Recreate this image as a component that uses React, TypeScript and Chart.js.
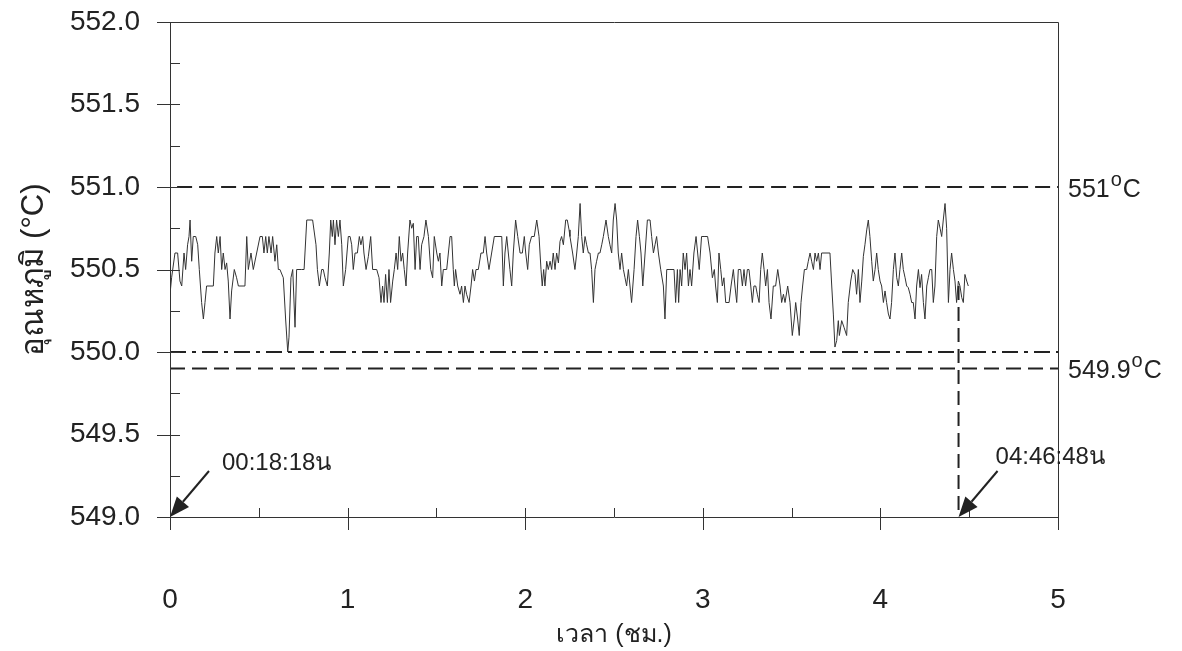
import React, { useEffect, useRef } from 'react';
import { Chart, registerables } from 'chart.js';

Chart.register(...registerables);

const FONT = "'Liberation Sans', Arial, 'DejaVu Sans', sans-serif";

// Temperature readings [time (h), temperature (°C)]
const readingsA: [number, number][] = [
  [0.000, 550.35], [0.009, 550.45], [0.028, 550.6], [0.043, 550.6], [0.056, 550.43], [0.066, 550.4],
  [0.079, 550.6], [0.088, 550.5], [0.099, 550.65], [0.107, 550.7], [0.113, 550.8], [0.122, 550.55],
  [0.131, 550.7], [0.145, 550.7], [0.156, 550.65], [0.165, 550.5], [0.178, 550.3], [0.188, 550.2],
  [0.197, 550.3], [0.206, 550.4], [0.244, 550.4], [0.253, 550.6], [0.263, 550.7], [0.272, 550.6],
  [0.282, 550.7], [0.291, 550.5], [0.300, 550.6], [0.310, 550.5], [0.319, 550.54], [0.328, 550.43],
  [0.338, 550.2], [0.347, 550.37], [0.362, 550.5], [0.375, 550.45], [0.385, 550.4], [0.422, 550.4],
  [0.432, 550.7], [0.441, 550.5], [0.456, 550.6], [0.469, 550.5], [0.488, 550.6], [0.507, 550.7],
  [0.520, 550.7], [0.529, 550.6], [0.539, 550.7], [0.548, 550.6], [0.557, 550.7], [0.569, 550.6],
  [0.578, 550.7], [0.591, 550.55], [0.601, 550.65], [0.610, 550.5], [0.619, 550.5], [0.638, 550.45],
  [0.651, 550.2], [0.663, 550.0], [0.670, 550.09], [0.681, 550.45], [0.691, 550.5], [0.704, 550.15],
  [0.713, 550.5], [0.741, 550.5],
];

const readingsB: [number, number][] = [
  [0.755, 550.5], [0.770, 550.8], [0.803, 550.8], [0.822, 550.65], [0.830, 550.5], [0.841, 550.4],
  [0.854, 550.5], [0.863, 550.5], [0.873, 550.45], [0.886, 550.4], [0.897, 550.6], [0.905, 550.8],
  [0.914, 550.7], [0.920, 550.8], [0.929, 550.65], [0.938, 550.8], [0.948, 550.7], [0.957, 550.8],
  [0.967, 550.65], [0.976, 550.4], [0.989, 550.5], [1.004, 550.7], [1.014, 550.7], [1.023, 550.65],
  [1.032, 550.5], [1.042, 550.6], [1.055, 550.6], [1.066, 550.7], [1.075, 550.65], [1.085, 550.7],
  [1.092, 550.6], [1.104, 550.5], [1.117, 550.58], [1.130, 550.7], [1.141, 550.5], [1.164, 550.5],
  [1.177, 550.45], [1.188, 550.3], [1.197, 550.4], [1.205, 550.3], [1.214, 550.47], [1.224, 550.3],
  [1.233, 550.5], [1.242, 550.3], [1.254, 550.43], [1.263, 550.5], [1.273, 550.6], [1.282, 550.5],
  [1.291, 550.7], [1.301, 550.55], [1.310, 550.6], [1.319, 550.5], [1.329, 550.4], [1.338, 550.6],
  [1.351, 550.8], [1.361, 550.75], [1.370, 550.78], [1.380, 550.5], [1.389, 550.7], [1.398, 550.7],
  [1.408, 550.5], [1.417, 550.65], [1.430, 550.7], [1.441, 550.8], [1.455, 550.7], [1.468, 550.5],
  [1.479, 550.45], [1.488, 550.7],
];

const readingsC: [number, number][] = [
  [1.492, 550.7], [1.502, 550.6], [1.511, 550.55], [1.520, 550.6], [1.530, 550.4], [1.539, 550.5],
  [1.558, 550.5], [1.577, 550.7], [1.586, 550.7], [1.595, 550.5], [1.601, 550.4], [1.608, 550.5],
  [1.620, 550.4], [1.633, 550.35], [1.642, 550.4], [1.652, 550.3], [1.661, 550.4], [1.670, 550.35],
  [1.684, 550.3], [1.695, 550.4], [1.704, 550.5], [1.714, 550.43], [1.723, 550.5], [1.736, 550.5],
  [1.751, 550.6], [1.764, 550.6], [1.774, 550.7], [1.783, 550.6], [1.796, 550.5], [1.811, 550.6],
  [1.826, 550.7], [1.868, 550.7], [1.877, 550.4], [1.886, 550.6], [1.896, 550.7], [1.914, 550.5],
  [1.924, 550.4], [1.933, 550.6], [1.946, 550.8], [1.958, 550.7], [1.971, 550.6], [1.984, 550.6],
  [1.995, 550.7], [2.003, 550.6], [2.014, 550.5], [2.023, 550.65], [2.036, 550.7], [2.051, 550.7],
  [2.065, 550.8], [2.078, 550.7], [2.089, 550.5], [2.096, 550.4], [2.104, 550.5], [2.111, 550.4],
  [2.121, 550.55], [2.130, 550.5], [2.140, 550.55], [2.149, 550.5], [2.158, 550.6], [2.168, 550.5],
  [2.177, 550.6], [2.187, 550.54], [2.196, 550.67], [2.205, 550.7], [2.215, 550.65], [2.228, 550.8],
  [2.237, 550.8], [2.247, 550.74],
];

const readingsD: [number, number][] = [
  [2.252, 550.7], [2.267, 550.6], [2.280, 550.5], [2.290, 550.6], [2.299, 550.7], [2.309, 550.9],
  [2.318, 550.7], [2.327, 550.6], [2.337, 550.7], [2.346, 550.65], [2.356, 550.6], [2.365, 550.6],
  [2.374, 550.5], [2.384, 550.3], [2.393, 550.5], [2.402, 550.55], [2.412, 550.6], [2.421, 550.6],
  [2.431, 550.65], [2.440, 550.7], [2.455, 550.8], [2.468, 550.7], [2.477, 550.65], [2.487, 550.6],
  [2.496, 550.8], [2.506, 550.9], [2.515, 550.8], [2.524, 550.6], [2.534, 550.5], [2.543, 550.6],
  [2.553, 550.5], [2.562, 550.45], [2.571, 550.4], [2.581, 550.5], [2.590, 550.4], [2.599, 550.3],
  [2.613, 550.5], [2.624, 550.7], [2.633, 550.8], [2.643, 550.7], [2.652, 550.6], [2.662, 550.4],
  [2.675, 550.6], [2.688, 550.8], [2.703, 550.8], [2.712, 550.7], [2.722, 550.6], [2.731, 550.65],
  [2.740, 550.7], [2.750, 550.6], [2.763, 550.5], [2.778, 550.4], [2.787, 550.2], [2.797, 550.5],
  [2.815, 550.5], [2.838, 550.5], [2.847, 550.3], [2.857, 550.5], [2.864, 550.3], [2.872, 550.5],
  [2.881, 550.4], [2.890, 550.6], [2.900, 550.5], [2.909, 550.6], [2.919, 550.4], [2.928, 550.5],
  [2.937, 550.4], [2.950, 550.6], [2.962, 550.7], [2.971, 550.6], [2.980, 550.5], [2.993, 550.7],
];

const readingsE: [number, number][] = [
  [3.012, 550.7], [3.027, 550.7], [3.041, 550.6], [3.054, 550.45], [3.065, 550.5], [3.072, 550.4],
  [3.082, 550.3], [3.091, 550.6], [3.101, 550.5], [3.110, 550.4], [3.119, 550.45], [3.129, 550.3],
  [3.148, 550.3], [3.159, 550.4], [3.172, 550.5], [3.181, 550.4], [3.191, 550.3], [3.200, 550.5],
  [3.213, 550.5], [3.223, 550.4], [3.232, 550.5], [3.241, 550.4], [3.251, 550.5], [3.260, 550.5],
  [3.270, 550.4], [3.279, 550.3], [3.288, 550.4], [3.298, 550.4], [3.307, 550.35], [3.317, 550.3],
  [3.326, 550.5], [3.335, 550.6], [3.345, 550.5], [3.354, 550.4], [3.364, 550.5], [3.373, 550.3],
  [3.384, 550.2], [3.397, 550.4], [3.410, 550.4], [3.422, 550.5], [3.435, 550.4], [3.444, 550.3],
  [3.454, 550.35], [3.463, 550.3], [3.478, 550.4], [3.491, 550.3], [3.504, 550.1], [3.515, 550.2],
  [3.523, 550.3], [3.534, 550.2], [3.543, 550.1], [3.553, 550.3], [3.562, 550.4], [3.572, 550.5],
  [3.585, 550.5], [3.594, 550.55], [3.604, 550.6], [3.613, 550.55], [3.623, 550.5], [3.632, 550.6],
  [3.641, 550.55], [3.651, 550.6], [3.660, 550.5], [3.669, 550.6], [3.716, 550.6], [3.726, 550.4],
  [3.735, 550.23], [3.744, 550.03], [3.754, 550.07], [3.763, 550.19],
];

const readingsF: [number, number][] = [
  [3.769, 550.1], [3.782, 550.19], [3.795, 550.15], [3.810, 550.1], [3.819, 550.3], [3.833, 550.43],
  [3.844, 550.5], [3.857, 550.47], [3.866, 550.35], [3.876, 550.5], [3.885, 550.3], [3.895, 550.43],
  [3.904, 550.58], [3.913, 550.65], [3.923, 550.74], [3.932, 550.8], [3.941, 550.7], [3.951, 550.55],
  [3.960, 550.43], [3.970, 550.5], [3.979, 550.6], [3.988, 550.5], [3.998, 550.43], [4.007, 550.4],
  [4.017, 550.3], [4.026, 550.37], [4.035, 550.3], [4.045, 550.23], [4.054, 550.2], [4.063, 550.3],
  [4.073, 550.5], [4.082, 550.6], [4.092, 550.45], [4.101, 550.4], [4.110, 550.5], [4.120, 550.6],
  [4.129, 550.5], [4.139, 550.45], [4.148, 550.4], [4.157, 550.39], [4.167, 550.35], [4.176, 550.3],
  [4.185, 550.3], [4.195, 550.2], [4.204, 550.4], [4.214, 550.5], [4.223, 550.39], [4.232, 550.47],
  [4.242, 550.3], [4.251, 550.2], [4.261, 550.4], [4.270, 550.45], [4.279, 550.5], [4.289, 550.5],
  [4.298, 550.3], [4.307, 550.4], [4.317, 550.7], [4.326, 550.8], [4.336, 550.75], [4.345, 550.7],
  [4.354, 550.8], [4.364, 550.9], [4.373, 550.75], [4.383, 550.3], [4.392, 550.5], [4.401, 550.6],
  [4.411, 550.5], [4.420, 550.43], [4.429, 550.3], [4.439, 550.43], [4.448, 550.4], [4.458, 550.33],
  [4.467, 550.3], [4.476, 550.47], [4.486, 550.43], [4.495, 550.4],
];

// Reference lines
const upperLimit = 551.0;
const setPoint = 550.0;
const lowerLimit = 549.9;
const limitLabels = ['551', '549.9'];
const limitValues = [551.0, 549.9];

// End marker
const endTime = 4.44;
const endTemp = 550.4;

// Axes
const xMin = 0;
const xMax = 5;
const yMin = 549.0;
const yMax = 552.0;
const xMajorTicks = [0, 1, 2, 3, 4, 5];
const xMinorTicks = [0.5, 1.5, 2.5, 3.5, 4.5];
const yMajorTicks = [549.0, 549.5, 550.0, 550.5, 551.0, 551.5, 552.0];
const yMinorTicks = [549.25, 549.75, 550.25, 550.75, 551.25, 551.75];

// Annotations
const annotationLabels = ['00:18:18น', '04:46:48น'];
const annotationTimes = [0, endTime];

const xTitle = 'เวลา (ชม.)';
const yTitle = 'อุณหภูมิ (°C)';

const INK = '#222';

const framePlugin = {
  id: 'framePlugin',
  afterDatasetsDraw(chart: any) {
    const { ctx, chartArea, scales } = chart;
    const { left, right, top, bottom } = chartArea;
    const x = scales.x;
    const y = scales.y;
    const r = (v: number) => Math.round(v) + 0.5;
    const seg = (x1: number, y1: number, x2: number, y2: number) => {
      ctx.beginPath();
      ctx.moveTo(x1, y1);
      ctx.lineTo(x2, y2);
      ctx.stroke();
    };
    ctx.save();
    ctx.strokeStyle = '#333';
    ctx.lineWidth = 1;
    // frame
    seg(r(left), r(top), r(right), r(top));
    seg(r(right), r(top), r(right), r(bottom));
    seg(r(left), r(bottom), r(right), r(bottom));
    seg(r(left), r(top), r(left), r(bottom));
    // y ticks
    yMajorTicks.forEach((v) => {
      const p = r(y.getPixelForValue(v));
      seg(left - 13, p, left + 10, p);
    });
    yMinorTicks.forEach((v) => {
      const p = r(y.getPixelForValue(v));
      seg(left, p, left + 10, p);
    });
    // x ticks
    xMajorTicks.forEach((v) => {
      const p = r(x.getPixelForValue(v));
      seg(p, bottom - 9, p, bottom + 13);
    });
    xMinorTicks.forEach((v) => {
      const p = r(x.getPixelForValue(v));
      seg(p, bottom - 9, p, bottom);
    });

    // arrows + annotation labels
    ctx.fillStyle = INK;
    ctx.strokeStyle = INK;
    const textOffsets = [
      [52, -54],
      [37, -60],
    ];
    annotationTimes.forEach((t, i) => {
      const tipX = x.getPixelForValue(t);
      const tipY = y.getPixelForValue(yMin);
      const tailX = tipX + 39;
      const tailY = tipY - 46;
      const ang = Math.atan2(tipY - tailY, tipX - tailX);
      const headLen = 20;
      const headW = 8;
      const bx = tipX - headLen * Math.cos(ang);
      const by = tipY - headLen * Math.sin(ang);
      ctx.lineWidth = 2;
      seg(tailX, tailY, bx, by);
      ctx.beginPath();
      ctx.moveTo(tipX, tipY);
      ctx.lineTo(bx + headW * Math.sin(ang), by - headW * Math.cos(ang));
      ctx.lineTo(bx - headW * Math.sin(ang), by + headW * Math.cos(ang));
      ctx.closePath();
      ctx.fill();
      ctx.font = `24px ${FONT}`;
      ctx.textAlign = 'left';
      ctx.textBaseline = 'middle';
      ctx.fillText(annotationLabels[i], tipX + textOffsets[i][0], tipY + textOffsets[i][1]);
    });

    // right-hand limit labels with superscript "o"
    limitLabels.forEach((txt, i) => {
      const py = y.getPixelForValue(limitValues[i]) + 3;
      const px = right + 10;
      ctx.textAlign = 'left';
      ctx.textBaseline = 'middle';
      ctx.font = `25px ${FONT}`;
      ctx.fillText(txt, px, py);
      const w1 = ctx.measureText(txt).width;
      ctx.font = `20px ${FONT}`;
      ctx.fillText('o', px + w1 + 1, py - 10);
      const w2 = ctx.measureText('o').width;
      ctx.font = `25px ${FONT}`;
      ctx.fillText('C', px + w1 + w2 + 2, py);
    });
    ctx.restore();
  },
};

export default function App() {
  const canvasRef = useRef<HTMLCanvasElement | null>(null);

  useEffect(() => {
    document.body.style.margin = '0';
    const canvas = canvasRef.current;
    if (!canvas) return;

    const series = [...readingsA, ...readingsB, ...readingsC, ...readingsD, ...readingsE, ...readingsF].map(
      ([t, v]) => ({ x: t, y: v })
    );

    const chart = new Chart(canvas, {
      type: 'scatter',
      data: {
        datasets: [
          {
            label: 'temperature',
            data: series,
            showLine: true,
            borderColor: '#333',
            borderWidth: 1,
            pointRadius: 0,
            tension: 0,
          },
          {
            label: 'upper',
            data: [
              { x: 0.04, y: upperLimit },
              { x: xMax, y: upperLimit },
            ],
            showLine: true,
            borderColor: INK,
            borderWidth: 2,
            borderDash: [15, 7],
            pointRadius: 0,
          },
          {
            label: 'setpoint',
            data: [
              { x: xMin, y: setPoint },
              { x: xMax, y: setPoint },
            ],
            showLine: true,
            borderColor: INK,
            borderWidth: 2,
            borderDash: [16, 6, 4, 6],
            pointRadius: 0,
          },
          {
            label: 'lower',
            data: [
              { x: xMin, y: lowerLimit },
              { x: xMax, y: lowerLimit },
            ],
            showLine: true,
            borderColor: INK,
            borderWidth: 2,
            borderDash: [15, 7],
            pointRadius: 0,
          },
          {
            label: 'end',
            data: [
              { x: endTime, y: endTemp },
              { x: endTime, y: yMin },
            ],
            showLine: true,
            borderColor: INK,
            borderWidth: 2,
            borderDash: [14, 7],
            pointRadius: 0,
          },
        ],
      },
      options: {
        animation: false,
        responsive: false,
        maintainAspectRatio: false,
        layout: { padding: { top: 22, right: 124, left: 0, bottom: 0 } },
        plugins: {
          legend: { display: false },
          tooltip: { enabled: false },
        },
        scales: {
          x: {
            type: 'linear',
            min: xMin,
            max: xMax,
            grid: { display: false, drawTicks: false },
            border: { display: false },
            ticks: {
              stepSize: 1,
              color: INK,
              font: { family: FONT, size: 28 },
              padding: 66,
              maxRotation: 0,
            },
            title: {
              display: true,
              text: xTitle,
              color: INK,
              font: { family: FONT, size: 25 },
              padding: { top: 0, bottom: 1 },
            },
            afterFit: (s: any) => {
              s.height = 134;
              s.paddingLeft = 0;
              s.paddingRight = 0;
            },
          },
          y: {
            type: 'linear',
            min: yMin,
            max: yMax,
            grid: { display: false, drawTicks: false },
            border: { display: false },
            ticks: {
              stepSize: 0.5,
              color: INK,
              font: { family: FONT, size: 28 },
              padding: 30,
              callback: (v: any) => Number(v).toFixed(1),
            },
            title: {
              display: true,
              text: yTitle,
              color: INK,
              font: { family: FONT, size: 31 },
              padding: { top: 16, bottom: 0 },
            },
            afterFit: (s: any) => {
              s.width = 170;
              s.paddingTop = 0;
              s.paddingBottom = 0;
            },
          },
        },
      },
      plugins: [framePlugin],
    });

    return () => chart.destroy();
  }, []);

  return (
    <div style={{ width: 1182, height: 651, background: '#fff' }}>
      <canvas ref={canvasRef} width={1182} height={651} style={{ display: 'block' }} />
    </div>
  );
}
